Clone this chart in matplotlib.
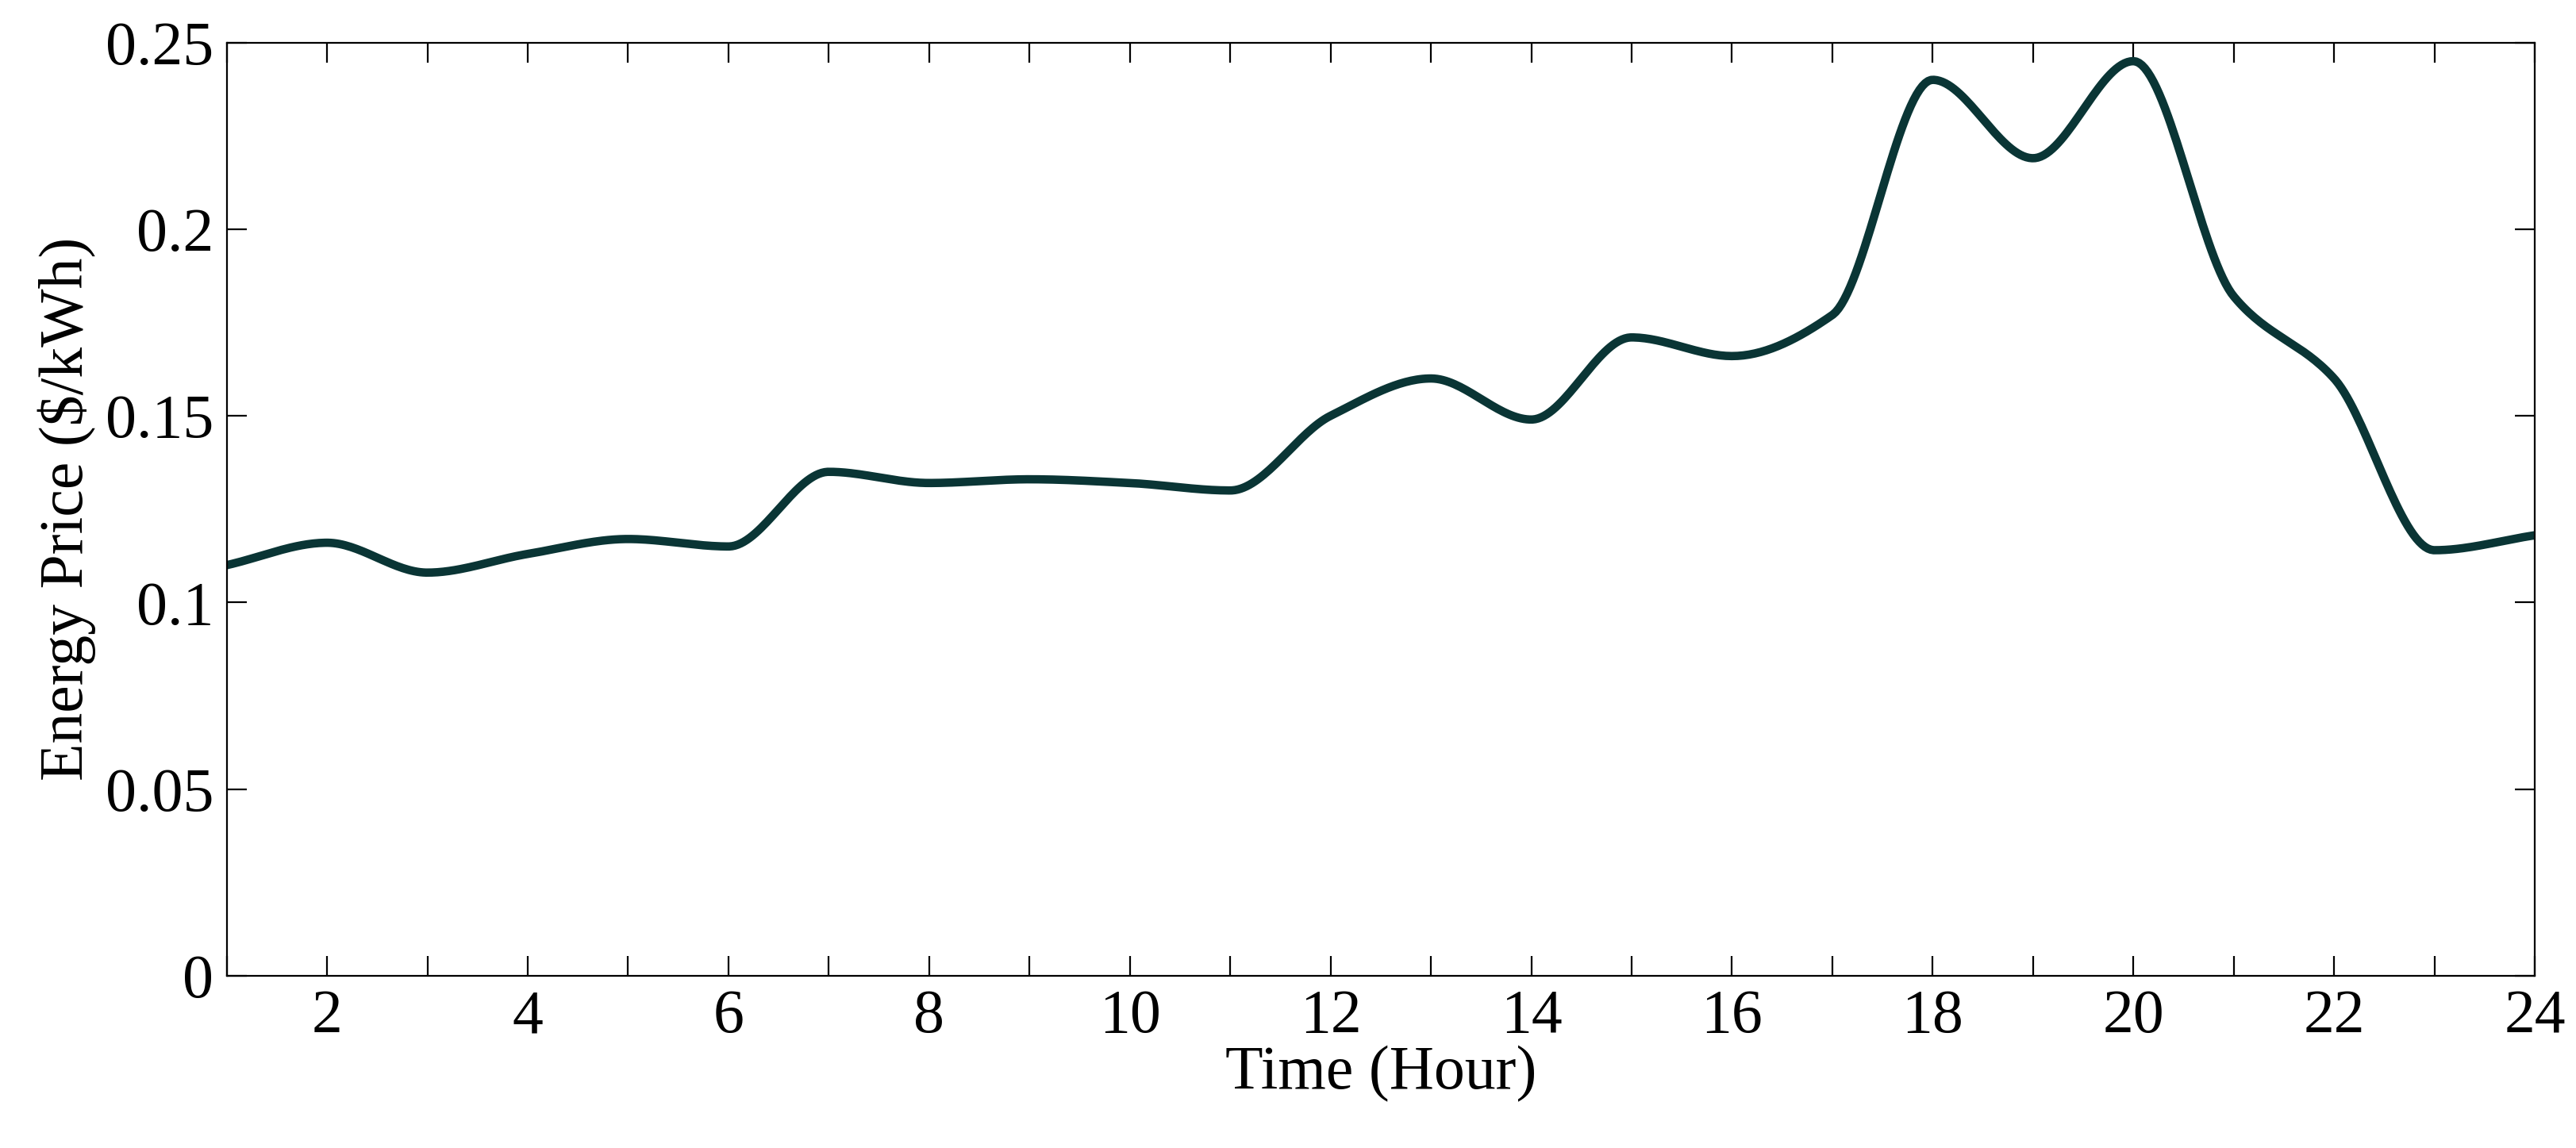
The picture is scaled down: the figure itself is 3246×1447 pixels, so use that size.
import matplotlib.pyplot as plt
import numpy as np

hours = np.arange(1, 25)
price = [0.110, 0.116, 0.108, 0.113, 0.117, 0.115, 0.135, 0.132, 0.133, 0.132,
         0.130, 0.150, 0.160, 0.149, 0.171, 0.166, 0.177, 0.240, 0.219, 0.245,
         0.182, 0.160, 0.114, 0.118]


def pchip(x, y, xs):
    # shape-preserving cubic through the hourly points, for a smooth line
    x = np.asarray(x, float); y = np.asarray(y, float)
    h = np.diff(x); delta = np.diff(y) / h
    d = np.zeros_like(y)
    for k in range(1, len(y) - 1):
        if delta[k - 1] * delta[k] > 0:
            w1 = 2 * h[k] + h[k - 1]; w2 = h[k] + 2 * h[k - 1]
            d[k] = (w1 + w2) / (w1 / delta[k - 1] + w2 / delta[k])
    d[0] = delta[0]; d[-1] = delta[-1]
    idx = np.clip(np.searchsorted(x, xs) - 1, 0, len(x) - 2)
    t = (xs - x[idx]) / h[idx]
    h00 = 2 * t**3 - 3 * t**2 + 1; h10 = t**3 - 2 * t**2 + t
    h01 = -2 * t**3 + 3 * t**2; h11 = t**3 - t**2
    return (h00 * y[idx] + h10 * h[idx] * d[idx]
            + h01 * y[idx + 1] + h11 * h[idx] * d[idx + 1])


plt.rcParams.update({"font.family": "Liberation Serif", "font.size": 28,
                     "xtick.direction": "in", "ytick.direction": "in",
                     "xtick.top": True, "ytick.right": True,
                     "xtick.major.size": 9, "ytick.major.size": 9})

fig = plt.figure(figsize=(16.23, 7.235), dpi=200)
ax = fig.add_axes([0.088, 0.150, 0.896, 0.813])
xs = np.linspace(1, 24, 800)
ax.plot(xs, pchip(hours, price, xs), color="#0a3535", lw=3.8)
ax.set_xlim(1, 24); ax.set_ylim(0, 0.25)
ax.set_xticks(hours)
ax.set_xticklabels([str(h) if h % 2 == 0 else "" for h in hours])
ax.set_yticks([0, 0.05, 0.1, 0.15, 0.2, 0.25])
ax.set_yticklabels(["0", "0.05", "0.1", "0.15", "0.2", "0.25"])
ax.tick_params(pad=6)
ax.set_xlabel("Time (Hour)", labelpad=0)
ax.set_ylabel("Energy Price ($/kWh)", labelpad=4)
fig.savefig("out.png", dpi=200)
